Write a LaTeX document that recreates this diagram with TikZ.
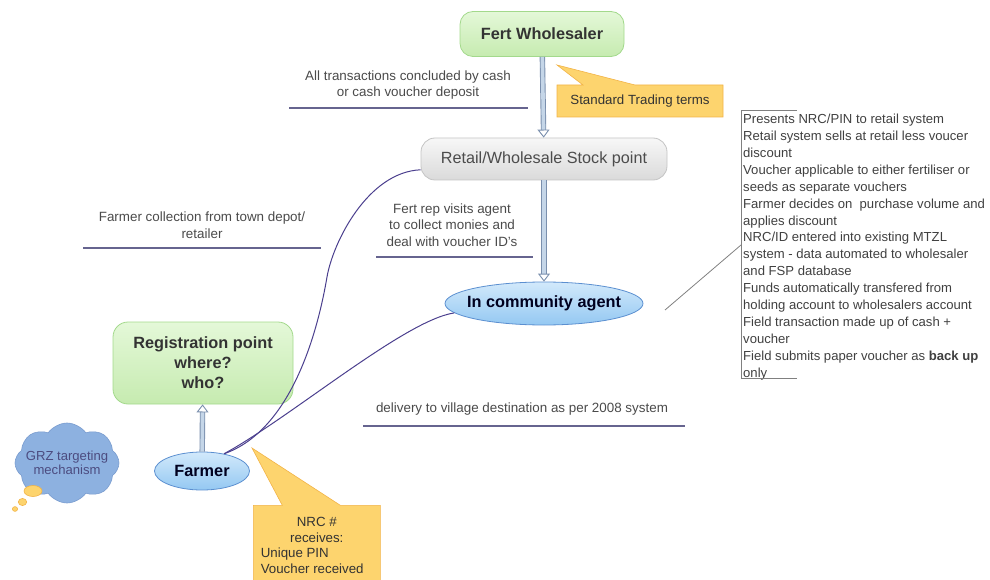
\documentclass[tikz,border=0pt]{standalone}
\usepackage{fontspec}
\setmainfont{Liberation Sans}
\usetikzlibrary{shapes.geometric,shapes.callouts,shapes.symbols,arrows.meta,calc}
\definecolor{greenfillA}{HTML}{E4F8D8}
\definecolor{greenfillB}{HTML}{C6EBB0}
\definecolor{greenedge}{HTML}{A3D98C}
\definecolor{greyfillA}{HTML}{F7F7F7}
\definecolor{greyfillB}{HTML}{DADADA}
\definecolor{greyedge}{HTML}{C4C4C4}
\definecolor{bluefillA}{HTML}{D2E9FB}
\definecolor{bluefillB}{HTML}{94C8F2}
\definecolor{blueedge}{HTML}{5B8FD0}
\definecolor{callfill}{HTML}{FDD46E}
\definecolor{calledge}{HTML}{F2B347}
\definecolor{cloudfill}{HTML}{8DB1E0}
\definecolor{cloudedge}{HTML}{7A9CCF}
\definecolor{curvecol}{HTML}{4B3F8E}
\definecolor{linecol}{HTML}{66648F}
\definecolor{bodytext}{HTML}{4A4A4A}
\definecolor{arrowedge}{HTML}{7A8FAD}
\definecolor{arrowfill}{HTML}{C5D6E8}
\begin{document}
\begin{tikzpicture}[x=1pt,y=-1pt,
  greenbox/.style={draw=greenedge, line width=0.8pt, rounded corners=13pt, top color=greenfillA, bottom color=greenfillB, font=\fontsize{16.3}{20}\selectfont\bfseries, text=black!80, align=center},
  greybox/.style={draw=greyedge, line width=0.8pt, rounded corners=14pt, top color=greyfillA, bottom color=greyfillB, font=\fontsize{16.2}{18}\selectfont, text=black!70},
  blueell/.style={ellipse, draw=blueedge, line width=0.8pt, top color=bluefillA, bottom color=bluefillB, font=\fontsize{16.3}{18}\selectfont\bfseries, text=black!80!blue!60!black, inner sep=0pt},
  callbox/.style={rectangle callout, draw=calledge, fill=callfill, line width=0.6pt, font=\fontsize{13.3}{15.5}\selectfont, text=black!80},
  label/.style={font=\fontsize{13.4}{16.5}\selectfont, text=bodytext, align=center},
  uline/.style={draw=linecol, line width=1.3pt},
  curve/.style={draw=curvecol, line width=1pt},
  flow/.style={draw=arrowedge, line width=0.9pt, double=arrowfill, double distance=3.6pt, -{Triangle[open, length=8pt, width=12pt]}},
  bubble/.style={fill=callfill, draw=calledge, line width=0.6pt}
]
\useasboundingbox (0,0) rectangle (990,580);

% main nodes
\node[greenbox, minimum width=164, minimum height=45] (fw) at (542,34) {Fert Wholesaler};
\node[greybox, minimum width=246, minimum height=42] (rw) at (544,159) {Retail/Wholesale Stock point};
\node[blueell, inner xsep=-7pt, minimum width=198, minimum height=43] (agent) at (544,303.5) {In community agent};
\node[greenbox, rounded corners=15pt, minimum width=180, minimum height=82] (reg) at (203,363) {Registration point\\where?\\who?};
\node[blueell, minimum width=95, minimum height=38] (farmer) at (202,471) {Farmer};

% cloud
\node[cloud, cloud puffs=8, cloud puff arc=110, aspect=1.3, draw=cloudedge, fill=cloudfill, line width=0.6pt, minimum width=104, minimum height=80, inner sep=0pt] (grz) at (67,463) {};
\node[align=center, font=\fontsize{13.1}{14.5}\selectfont, text=black!50!blue!40!gray, inner sep=0pt] (grztext) at (grz.center) {GRZ targeting\\mechanism};
\draw[bubble] (33,491) ellipse (9 and 5.5);
\draw[bubble] (22.5,502) ellipse (4.2 and 3.6);
\draw[bubble] (15,509) ellipse (2.6 and 2.4);

% arrows
\draw[flow] (fw) -- (rw);
\draw[flow] (rw) -- (agent);
\draw[flow] (farmer) -- (reg);

% curves
\draw[curve] (rw.185) .. controls (368,172) and (333,242) .. (327,277)
  .. controls (318,330) and (292,430) .. (farmer.38);
\draw[curve] (agent.186) .. controls (405,320) and (290,418) .. (farmer.38);

% callouts
\node[callbox, minimum width=166, minimum height=32, callout absolute pointer={(557,65)}, callout pointer width=52] (std) at (640,101) {Standard Trading terms};
\node[callbox, minimum width=127, minimum height=80, callout absolute pointer={(252,448)}, callout pointer width=58, align=left, inner sep=4pt, anchor=north west] (nrc) at (253,505)
  {\makebox[112pt][c]{NRC \#}\\\makebox[112pt][c]{receives:}\\Unique PIN\\Voucher received};

% labels with underlines
\node[label] (lab1) at (408,85) {All transactions concluded by cash\\or cash voucher deposit};
\draw[uline] (289,108) -- (528,108);
\node[label] (lab2) at (202,225) {Farmer collection from town depot/\\retailer};
\draw[uline] (83,248) -- (321,248);
\node[label] (lab3) at (452,225) {Fert rep visits agent\\to collect monies and\\deal with voucher ID's};
\draw[uline] (376,257) -- (533,257);
\node[label] (lab4) at (522,409) {delivery to village destination as per 2008 system};
\draw[uline] (363,426) -- (685,426);

% notes box
\node[anchor=north west, align=left, inner sep=0pt, font=\fontsize{13.1}{16.9}\selectfont, text=black!75] (note) at (743,114)
{Presents NRC/PIN to retail system\\
Retail system sells at retail less voucer\\
discount\\
Voucher applicable to either fertiliser or\\
seeds as separate vouchers\\
Farmer decides on\ \ purchase volume and\\
applies discount\\
NRC/ID entered into existing MTZL\\
system - data automated to wholesaler\\
and FSP database\\
Funds automatically transfered from\\
holding account to wholesalers account\\
Field transaction made up of cash +\\
voucher\\
Field submits paper voucher as \textbf{back up}\\
only};
\draw[gray, line width=0.7pt] (797,110) -- (741,110) -- (741,378) -- (797,378);
\coordinate (agentlink) at (665,310);
\coordinate (notelink) at (741,245);
\draw[gray, line width=0.8pt] (agentlink) -- (notelink);
\end{tikzpicture}
\end{document}
